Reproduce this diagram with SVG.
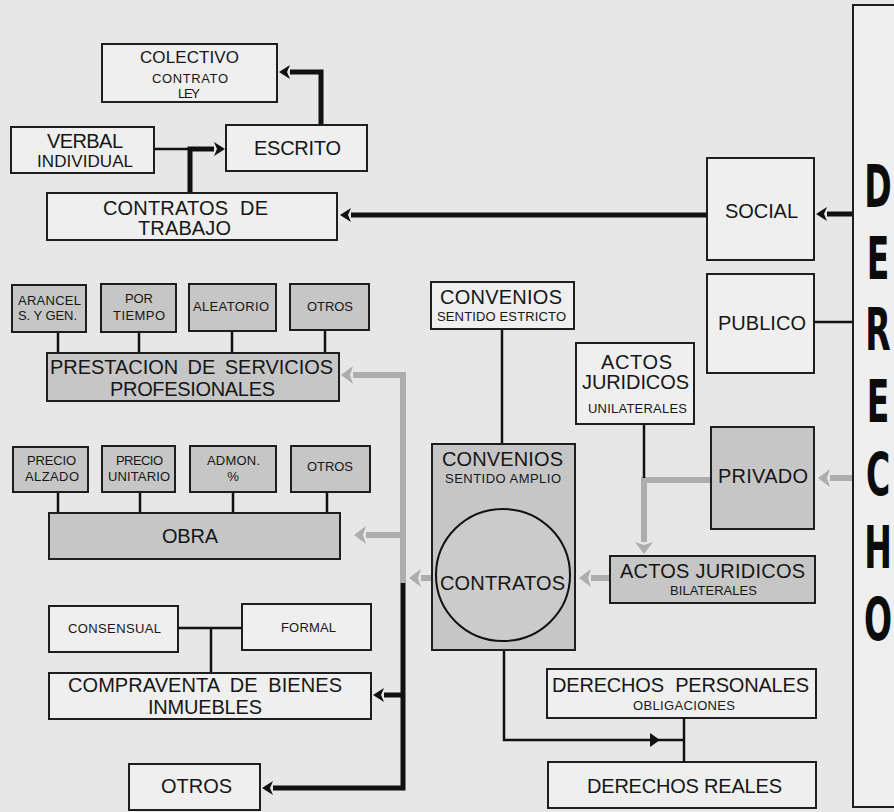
<svg xmlns="http://www.w3.org/2000/svg" width="894" height="812" viewBox="0 0 894 812">
<style>
text{font-family:"Liberation Sans",Arial,sans-serif;fill:#161616;text-anchor:middle}
.lb{fill:#efefef;stroke:#1e1e1e;stroke-width:2}
.gb{fill:#c6c6c6;stroke:#1e1e1e;stroke-width:2}
.thk{fill:none;stroke:#111;stroke-width:5}
.thn{fill:none;stroke:#111;stroke-width:2.5}
.gr{fill:none;stroke:#adadad;stroke-width:6}
.big{font-size:20px}
.mid{font-size:17px}
.sm{font-size:13px}
.let{font-family:"DejaVu Sans",sans-serif;font-weight:bold;font-size:59px;fill:#0c0c0c}
</style>
<defs>
<marker id="ab" viewBox="0 0 11 14" refX="0" refY="7" markerWidth="11" markerHeight="14" markerUnits="userSpaceOnUse" orient="auto"><path d="M0,0 L11,7 L0,14 L3,7 z" fill="#111"/></marker>
<marker id="ag" viewBox="0 0 12 18" refX="0" refY="9" markerWidth="12" markerHeight="18" markerUnits="userSpaceOnUse" orient="auto"><path d="M0,0 L12,9 L0,18 L3,9 z" fill="#adadad"/></marker>
</defs>
<rect x="0" y="0" width="894" height="812" fill="#e7e7e7"/>

<g id="connectors">
<path class="thn" d="M154,149 H190"/>
<path class="thk" d="M190,193 V149 H214" marker-end="url(#ab)"/>
<path class="thk" d="M321,125 V72 H290" marker-end="url(#ab)"/>
<path class="thk" d="M707,215 H351" marker-end="url(#ab)"/>
<path class="thk" d="M853,214 H827" marker-end="url(#ab)"/>
<path class="thn" d="M814,322 H853"/>
<path class="thn" d="M58,332 V353 M139,332 V353 M232,331 V353 M325,330 V353"/>
<path class="thn" d="M58,492 V513 M140,492 V513 M233,492 V513 M327,492 V513"/>
<path class="thn" d="M178,628 H242 M211,628 V673"/>
<path class="gr" d="M403,583 V375 H353" marker-end="url(#ag)"/>
<path class="gr" d="M403,535 H366" marker-end="url(#ag)"/>
<path class="gr" d="M432,578 H421" marker-end="url(#ag)"/>
<path class="gr" d="M610,578 H591" marker-end="url(#ag)"/>
<path class="gr" d="M853,478 H830" marker-end="url(#ag)"/>
<path class="gr" d="M712,480 H644 V542" marker-end="url(#ag)"/>
<path class="thn" d="M644,424 V478"/>
<path class="thk" d="M403,583 V788 H273" marker-end="url(#ab)"/>
<path class="thk" d="M403,695 H384" marker-end="url(#ab)"/>
<path class="thn" d="M502,329 V444"/>
<path class="thn" d="M504,650 V740 H684 M684,718 V762"/>
<path d="M650,733 L660,740 L650,747 z" fill="#111"/>
</g>

<g id="colectivo"><rect class="lb" x="102" y="44" width="175" height="58"/>
<text class="mid" x="189.5" y="63" textLength="99">COLECTIVO</text><text class="sm" x="190" y="83" textLength="76">CONTRATO</text><text class="sm" x="189" y="98" textLength="22">LEY</text></g>
<g id="verbal"><rect class="lb" x="11" y="127" width="143" height="46"/>
<text class="big" x="85" y="148" textLength="76">VERBAL</text><text class="mid" x="85" y="167" textLength="96">INDIVIDUAL</text></g>
<g id="escrito"><rect class="lb" x="226" y="125" width="141" height="46"/>
<text class="big" x="297.5" y="155" textLength="87">ESCRITO</text></g>
<g id="contratos-trabajo"><rect class="lb" x="47" y="193" width="290" height="47"/>
<text class="big" x="185.5" y="215" textLength="165" word-spacing="6">CONTRATOS DE</text><text class="big" x="184.5" y="235" textLength="93">TRABAJO</text></g>

<g id="social"><rect class="lb" x="707" y="158" width="107" height="102"/>
<text class="big" x="761.5" y="218" textLength="73">SOCIAL</text></g>
<g id="publico"><rect class="lb" x="707" y="274" width="107" height="99"/>
<text class="big" x="762" y="330" textLength="88">PUBLICO</text></g>
<g id="privado"><rect class="gb" x="711" y="427" width="103" height="102"/>
<text class="big" x="763" y="483" textLength="90">PRIVADO</text></g>

<g id="derecho"><rect class="lb" x="853" y="5" width="50" height="802"/>
<g transform="translate(878,0) scale(0.56,1)">
<text class="let" x="0" y="207">D</text><text class="let" x="0" y="279">E</text><text class="let" x="0" y="350">R</text><text class="let" x="0" y="422">E</text><text class="let" x="0" y="495">C</text><text class="let" x="0" y="568">H</text><text class="let" x="0" y="640">O</text>
</g></g>

<g id="arancel"><rect class="gb" x="12" y="285" width="74" height="47"/>
<text class="sm" x="49.5" y="305" textLength="63">ARANCEL</text><text class="sm" x="47.5" y="320" textLength="59">S. Y GEN.</text></g>
<g id="por-tiempo"><rect class="gb" x="101" y="284" width="75" height="48"/>
<text class="sm" x="139" y="303" textLength="28">POR</text><text class="sm" x="139" y="320" textLength="52">TIEMPO</text></g>
<g id="aleatorio"><rect class="gb" x="189" y="284" width="87" height="47"/>
<text class="sm" x="231" y="311" textLength="76">ALEATORIO</text></g>
<g id="otros-prest"><rect class="gb" x="290" y="284" width="79" height="46"/>
<text class="sm" x="330" y="311" textLength="46">OTROS</text></g>
<g id="prestacion"><rect class="gb" x="47" y="353" width="292" height="48"/>
<text class="big" x="191.5" y="374" textLength="283" word-spacing="4">PRESTACION DE SERVICIOS</text><text class="big" x="192.5" y="396" textLength="165">PROFESIONALES</text></g>

<g id="precio-alzado"><rect class="gb" x="13" y="447" width="75" height="45"/>
<text class="sm" x="51.5" y="465" textLength="49">PRECIO</text><text class="sm" x="52" y="481" textLength="54">ALZADO</text></g>
<g id="precio-unitario"><rect class="gb" x="102" y="446" width="73" height="46"/>
<text class="sm" x="139.5" y="465" textLength="47">PRECIO</text><text class="sm" x="139" y="481" textLength="62">UNITARIO</text></g>
<g id="admon"><rect class="gb" x="190" y="446" width="86" height="46"/>
<text class="sm" x="233.5" y="465" textLength="53">ADMON.</text><text class="sm" x="233" y="481">%</text></g>
<g id="otros-obra"><rect class="gb" x="291" y="446" width="79" height="46"/>
<text class="sm" x="330" y="471" textLength="46">OTROS</text></g>
<g id="obra"><rect class="gb" x="49" y="513" width="291" height="46"/>
<text class="big" x="190" y="543" textLength="56">OBRA</text></g>

<g id="consensual"><rect class="lb" x="49" y="606" width="129" height="46"/>
<text class="sm" x="114.5" y="633" textLength="93">CONSENSUAL</text></g>
<g id="formal"><rect class="lb" x="242" y="604" width="129" height="46"/>
<text class="sm" x="308.5" y="632" textLength="55">FORMAL</text></g>
<g id="compraventa"><rect class="lb" x="49" y="673" width="322" height="46"/>
<text class="big" x="205" y="692" textLength="274" word-spacing="5">COMPRAVENTA DE BIENES</text><text class="big" x="205" y="714" textLength="114">INMUEBLES</text></g>
<g id="otros"><rect class="lb" x="129" y="764" width="131" height="46"/>
<text class="big" x="196.5" y="793" textLength="71">OTROS</text></g>

<g id="convenios-estricto"><rect class="lb" x="431" y="282" width="143" height="47"/>
<text class="big" x="501" y="304" textLength="122">CONVENIOS</text><text class="sm" x="501.5" y="321" textLength="129">SENTIDO ESTRICTO</text></g>
<g id="convenios-amplio"><rect class="gb" x="432" y="444" width="143" height="206"/>
<text class="big" x="502.5" y="466" textLength="121">CONVENIOS</text><text class="sm" x="503" y="483" textLength="116">SENTIDO AMPLIO</text></g>
<g id="contratos"><ellipse cx="503" cy="575" rx="67" ry="66" fill="#cbcbcb" stroke="#111" stroke-width="2"/>
<text class="big" x="502.5" y="590" textLength="125">CONTRATOS</text></g>

<g id="actos-unilaterales"><rect class="lb" x="576" y="343" width="118" height="81"/>
<text class="big" x="636.5" y="369" textLength="71">ACTOS</text><text class="big" x="635.5" y="389" textLength="107">JURIDICOS</text><text class="sm" x="637.5" y="413" textLength="99">UNILATERALES</text></g>
<g id="actos-bilaterales"><rect class="gb" x="610" y="556" width="205" height="47"/>
<text class="big" x="712.5" y="578" textLength="185">ACTOS JURIDICOS</text><text class="sm" x="713.5" y="595" textLength="87">BILATERALES</text></g>

<g id="derechos-personales"><rect class="lb" x="547" y="669" width="269" height="49"/>
<text class="big" x="680.5" y="692" textLength="257" word-spacing="6">DERECHOS PERSONALES</text><text class="sm" x="684" y="710" textLength="102">OBLIGACIONES</text></g>
<g id="derechos-reales"><rect class="lb" x="548" y="762" width="268" height="46"/>
<text class="big" x="684.5" y="793" textLength="195">DERECHOS REALES</text></g>
</svg>
